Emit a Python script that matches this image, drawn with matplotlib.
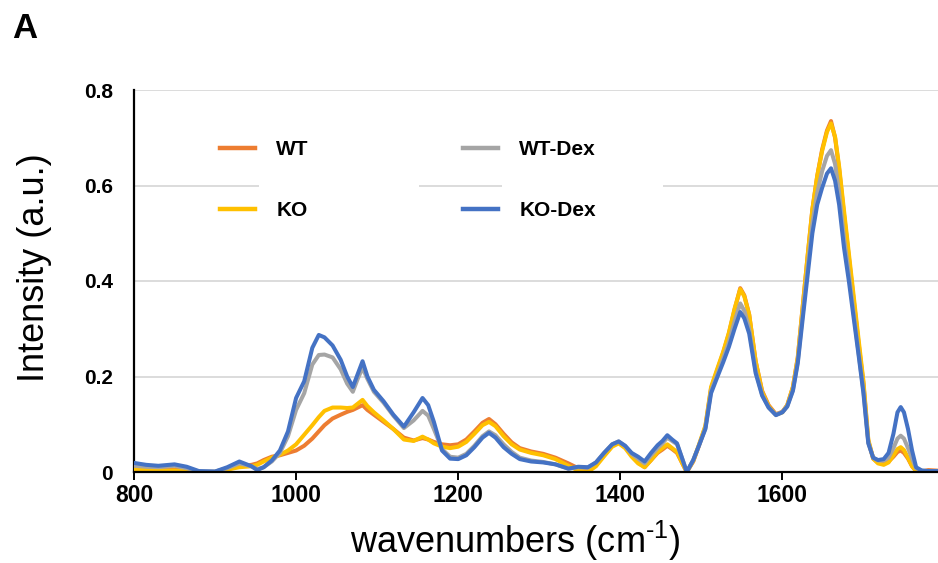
import matplotlib
matplotlib.use('Agg')
import matplotlib.pyplot as plt
from matplotlib.patches import Rectangle

# wavenumber grid (cm-1)
wn = [800, 815, 830, 850, 865, 880, 900, 915, 930, 945, 952, 960, 970, 980, 990,
      1000, 1010, 1020, 1028, 1035, 1045, 1055, 1063, 1070, 1076, 1082, 1088, 1096,
      1108, 1120, 1133, 1145, 1156, 1163, 1170, 1180, 1190, 1200, 1210, 1220, 1230,
      1238, 1246, 1256, 1266, 1276, 1290, 1305, 1320, 1336, 1348, 1360, 1370, 1380,
      1390, 1398, 1406, 1414, 1422, 1430, 1438, 1446, 1452, 1458, 1464, 1470, 1476,
      1482, 1490, 1497, 1505, 1512, 1520, 1527, 1534, 1541, 1548, 1553, 1559, 1567,
      1575, 1583, 1592, 1600, 1606, 1613, 1619, 1625, 1631, 1637, 1643, 1649, 1655,
      1660, 1665, 1670, 1676, 1682, 1688, 1694, 1700, 1706, 1712, 1718, 1725, 1731,
      1737, 1742, 1746, 1750, 1755, 1760, 1765, 1772, 1780, 1790]

wt = [0.008, 0.006, 0.005, 0.005, 0.003, 0.0, 0.0, 0.006, 0.012, 0.015, 0.018, 0.025, 0.032, 0.035, 0.040,
      0.045, 0.055, 0.070, 0.085, 0.098, 0.112, 0.120, 0.126, 0.130, 0.135, 0.140, 0.130, 0.120,
      0.105, 0.090, 0.072, 0.066, 0.071, 0.068, 0.063, 0.058, 0.056, 0.058, 0.068, 0.085, 0.103,
      0.111, 0.100, 0.080, 0.062, 0.050, 0.043, 0.038, 0.030, 0.018, 0.008, 0.002, 0.015, 0.035,
      0.055, 0.062, 0.052, 0.035, 0.020, 0.010, 0.025, 0.040, 0.047, 0.055, 0.048, 0.040, 0.020,
      0.0, 0.022, 0.055, 0.095, 0.175, 0.215, 0.250, 0.290, 0.340, 0.385, 0.370, 0.330, 0.232,
      0.170, 0.140, 0.121, 0.126, 0.140, 0.178, 0.240, 0.345, 0.450, 0.550, 0.620, 0.675, 0.715,
      0.735, 0.700, 0.635, 0.540, 0.450, 0.360, 0.270, 0.185, 0.065, 0.028, 0.020, 0.018, 0.022,
      0.032, 0.042, 0.045, 0.040, 0.028, 0.012, 0.002, 0.001, 0.004, 0.003]

ko = [0.005, 0.004, 0.003, 0.003, 0.002, 0.0, 0.0, 0.005, 0.010, 0.012, 0.015, 0.022, 0.030, 0.036, 0.045,
      0.058, 0.078, 0.098, 0.115, 0.128, 0.135, 0.135, 0.134, 0.135, 0.143, 0.151, 0.138, 0.125,
      0.108, 0.090, 0.068, 0.065, 0.074, 0.068, 0.060, 0.053, 0.050, 0.053, 0.063, 0.080, 0.098,
      0.105, 0.096, 0.075, 0.058, 0.047, 0.040, 0.035, 0.027, 0.013, 0.003, 0.0, 0.012, 0.033,
      0.053, 0.060, 0.050, 0.032, 0.018, 0.010, 0.025, 0.042, 0.050, 0.058, 0.050, 0.042, 0.020,
      0.0, 0.023, 0.057, 0.097, 0.178, 0.218, 0.252, 0.292, 0.342, 0.383, 0.368, 0.330, 0.232,
      0.168, 0.138, 0.120, 0.125, 0.140, 0.178, 0.240, 0.345, 0.450, 0.550, 0.620, 0.672, 0.712,
      0.730, 0.702, 0.640, 0.548, 0.458, 0.368, 0.278, 0.190, 0.068, 0.028, 0.018, 0.015, 0.020,
      0.035, 0.048, 0.052, 0.046, 0.030, 0.012, 0.002, 0.0, 0.0, 0.0]

wt_dex = [0.013, 0.011, 0.010, 0.013, 0.008, 0.001, 0.001, 0.008, 0.018, 0.012, 0.006, 0.010, 0.022, 0.040, 0.075,
          0.130, 0.165, 0.225, 0.245, 0.246, 0.240, 0.215, 0.185, 0.168, 0.195, 0.218, 0.195, 0.168,
          0.145, 0.118, 0.092, 0.108, 0.128, 0.118, 0.090, 0.048, 0.032, 0.030, 0.038, 0.055, 0.075,
          0.085, 0.077, 0.058, 0.042, 0.030, 0.024, 0.021, 0.016, 0.007, 0.010, 0.009, 0.020, 0.040,
          0.058, 0.064, 0.054, 0.038, 0.028, 0.018, 0.035, 0.050, 0.060, 0.072, 0.065, 0.058, 0.030,
          0.0, 0.025, 0.055, 0.092, 0.170, 0.205, 0.238, 0.272, 0.315, 0.353, 0.338, 0.300, 0.212,
          0.162, 0.135, 0.120, 0.126, 0.138, 0.172, 0.232, 0.330, 0.425, 0.520, 0.585, 0.630, 0.662,
          0.674, 0.645, 0.585, 0.490, 0.415, 0.332, 0.250, 0.170, 0.062, 0.030, 0.024, 0.024, 0.030,
          0.050, 0.070, 0.076, 0.070, 0.050, 0.028, 0.008, 0.003, 0.002, 0.002]

ko_dex = [0.019, 0.015, 0.013, 0.016, 0.011, 0.002, 0.001, 0.010, 0.022, 0.012, 0.004, 0.010, 0.024, 0.045, 0.085,
          0.155, 0.190, 0.260, 0.287, 0.282, 0.265, 0.235, 0.200, 0.178, 0.205, 0.232, 0.200, 0.172,
          0.148, 0.120, 0.095, 0.125, 0.155, 0.140, 0.105, 0.045, 0.028, 0.027, 0.035, 0.052, 0.072,
          0.082, 0.072, 0.052, 0.038, 0.027, 0.022, 0.020, 0.016, 0.007, 0.011, 0.010, 0.020, 0.040,
          0.058, 0.064, 0.055, 0.040, 0.032, 0.022, 0.040, 0.056, 0.065, 0.077, 0.068, 0.060, 0.030,
          0.0, 0.025, 0.055, 0.090, 0.165, 0.200, 0.230, 0.262, 0.300, 0.335, 0.322, 0.290, 0.207,
          0.160, 0.135, 0.119, 0.125, 0.137, 0.170, 0.228, 0.320, 0.410, 0.500, 0.560, 0.595, 0.625,
          0.636, 0.610, 0.560, 0.470, 0.400, 0.322, 0.245, 0.165, 0.060, 0.030, 0.025, 0.027, 0.040,
          0.080, 0.125, 0.136, 0.125, 0.090, 0.045, 0.010, 0.003, 0.002, 0.002]

series = [('WT', wt, '#ED7D31'), ('KO', ko, '#FFC000'),
          ('WT-Dex', wt_dex, '#A5A5A5'), ('KO-Dex', ko_dex, '#4472C4')]

xticks = [800, 1000, 1200, 1400, 1600]
yticks = [0, 0.2, 0.4, 0.6, 0.8]
ytick_labels = ['0', '0.2', '0.4', '0.6', '0.8']

plt.rcParams['font.family'] = ['Liberation Sans', 'DejaVu Sans']
plt.rcParams['mathtext.fontset'] = 'custom'
plt.rcParams['mathtext.rm'] = 'Liberation Sans'

fig = plt.figure(figsize=(9.38, 5.63), dpi=100)
ax = fig.add_axes([134 / 938, 91 / 563, 804 / 938, 382 / 563])

handles = {}
for name, vals, col in series:
    ln, = ax.plot(wn, vals, color=col, lw=2.9, zorder=3, solid_joinstyle='round')
    handles[name] = ln

ax.set_xlim(800, 1792)
ax.set_ylim(0, 0.8)
ax.set_xticks(xticks)
ax.set_yticks(yticks)
ax.set_yticklabels(ytick_labels)
ax.set_axisbelow(True)
ax.grid(axis='y', color='#d9d9d9', lw=1.3)
ax.grid(axis='x', visible=False)

for s in ['top', 'right']:
    ax.spines[s].set_visible(False)
ax.spines['left'].set_linewidth(1.6)
ax.spines['bottom'].set_linewidth(1.6)
ax.spines['bottom'].set_zorder(4)
ax.tick_params(axis='y', length=0, pad=15)
ax.tick_params(axis='x', direction='out', length=6, width=1.4, pad=3)
for lab in ax.get_yticklabels():
    lab.set_fontweight('bold')
    lab.set_fontsize(15)
for lab in ax.get_xticklabels():
    lab.set_fontweight('bold')
    lab.set_fontsize(16.5)

ax.set_xlabel('wavenumbers (cm$^{\\text{-1}}$)', fontsize=26)
ax.xaxis.set_label_coords(0.474, -0.122)
ax.set_ylabel('Intensity (a.u.)', fontsize=26)
ax.yaxis.set_label_coords(-0.102, 0.535)

# white boxes behind the legend texts (they cut the 0.6 gridline)
for x0 in [0.155, 0.458]:
    ax.add_patch(Rectangle((x0, 0.7), 0.2, 0.1, transform=ax.transAxes,
                           facecolor='white', edgecolor='none', zorder=1))

order = ['WT', 'KO', 'WT-Dex', 'KO-Dex']
leg = ax.legend([handles[k] for k in order], order, loc='upper left',
                bbox_to_anchor=(0.107, 0.868), ncol=2, frameon=False,
                prop={'weight': 'bold', 'size': 15}, handlelength=1.7,
                handletextpad=1.0, columnspacing=7.4, labelspacing=2.0,
                borderpad=0, borderaxespad=0)
for ln in leg.get_lines():
    ln.set_linewidth(3.2)

fig.text(12 / 938, 1 - 38 / 563, 'A', fontsize=25, fontweight='bold')

fig.savefig('out.png', dpi=100)
